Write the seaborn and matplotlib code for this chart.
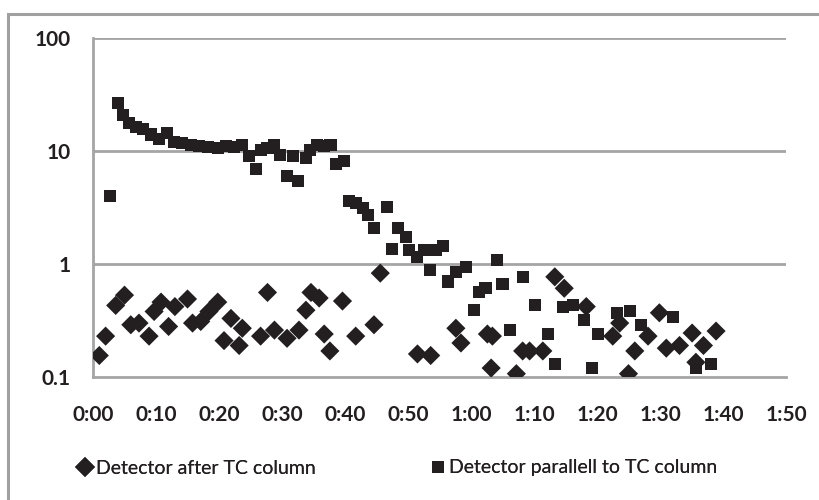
import matplotlib
matplotlib.use("Agg")
import matplotlib.pyplot as plt
from matplotlib.patches import Rectangle
from matplotlib.lines import Line2D
from matplotlib.ticker import FuncFormatter, FixedLocator, NullLocator
import seaborn as sns
import pandas as pd

# Detector after the TC column (time, signal)
t_after = [1.0, 2.0, 3.6, 5.0, 6.0, 7.3, 8.9, 9.7, 10.8, 12.0, 13.0, 15.0, 15.8,
           17.1, 18.4, 19.8, 20.8, 21.9, 23.2, 23.7, 26.6, 27.7, 28.8, 30.8, 32.7,
           33.8, 34.6, 35.9, 36.7, 37.6, 39.6, 41.7, 44.6, 45.6, 51.5, 53.6, 57.6,
           58.4, 62.6, 63.2, 63.4, 67.2, 68.2, 69.3, 71.4, 73.3, 74.8, 78.3, 82.5,
           83.6, 85.0, 86.0, 88.1, 89.9, 91.0, 93.1, 95.1, 95.7, 96.9, 98.9]
v_after = [0.155, 0.23, 0.43, 0.53, 0.29, 0.30, 0.23, 0.38, 0.46, 0.28, 0.42, 0.49,
           0.30, 0.31, 0.38, 0.46, 0.21, 0.33, 0.19, 0.27, 0.23, 0.56, 0.26, 0.22,
           0.26, 0.39, 0.56, 0.50, 0.24, 0.17, 0.47, 0.23, 0.29, 0.83, 0.16, 0.155,
           0.27, 0.20, 0.24, 0.12, 0.23, 0.107, 0.17, 0.17, 0.17, 0.77, 0.61, 0.42,
           0.23, 0.30, 0.107, 0.17, 0.23, 0.37, 0.18, 0.19, 0.245, 0.135, 0.19, 0.255]

# Detector parallel to the TC column (time, signal)
t_parallel = [2.7, 4.0, 4.7, 5.7, 6.8, 7.9, 9.2, 10.5, 11.8, 12.9, 14.2, 15.5, 16.9,
              18.2, 19.8, 21.1, 22.4, 23.6, 24.8, 25.8, 26.6, 27.7, 28.8, 29.7, 30.8,
              31.7, 32.6, 33.8, 34.5, 35.6, 36.7, 37.7, 38.5, 39.8, 40.7, 41.7, 42.8,
              43.7, 44.6, 46.6, 47.5, 48.4, 49.7, 50.2, 51.5, 52.6, 53.5, 54.4, 55.6,
              56.3, 57.6, 59.2, 60.5, 61.3, 62.3, 64.2, 65.0, 66.2, 68.2, 70.2, 72.2,
              73.3, 74.6, 76.2, 78.0, 79.2, 80.1, 83.1, 85.2, 87.0, 92.0, 95.7, 98.1]
v_parallel = [4.0, 26.4, 20.7, 17.8, 16.4, 15.7, 14.0, 12.8, 14.3, 12.0, 11.8, 11.2,
              11.0, 10.9, 10.6, 11.0, 10.9, 11.4, 9.1, 6.9, 10.3, 10.7, 11.4, 9.3,
              6.05, 9.0, 5.4, 8.7, 10.3, 11.4, 11.0, 11.4, 7.6, 8.1, 3.6, 3.5, 3.1,
              2.7, 2.1, 3.2, 1.35, 2.1, 1.75, 1.33, 1.16, 1.33, 0.88, 1.33, 1.43,
              0.70, 0.85, 0.95, 0.39, 0.57, 0.61, 1.09, 0.67, 0.26, 0.76, 0.43, 0.24,
              0.13, 0.42, 0.43, 0.32, 0.12, 0.24, 0.37, 0.38, 0.29, 0.34, 0.12, 0.13]

series_names = ["Detector after TC column", "Detector parallell to TC column"]
x_ticks = [0, 10, 20, 30, 40, 50, 60, 70, 80, 90, 100, 110]
y_ticks = [0.1, 1, 10, 100]
y_tick_labels = ["0.1", "1", "10", "100"]

df = pd.concat([
    pd.DataFrame({"t": t_after, "v": v_after, "series": series_names[0]}),
    pd.DataFrame({"t": t_parallel, "v": v_parallel, "series": series_names[1]}),
], ignore_index=True)

sns.set_theme(style="white")
plt.rcParams["font.family"] = ["Lato", "DejaVu Sans"]

INK = "#231f20"
GRID = "#a5a5a5"

fig = plt.figure(figsize=(8.2, 5.0), dpi=100)
ax = fig.add_axes([93 / 820, 1 - 377 / 500, (786 - 93) / 820, (377 - 38) / 500])

# outer chart frame (left and top edges visible)
fig.patches.append(Rectangle((8 / 820, -0.1), 1.2, 1 - 14 / 500 + 0.1,
                             transform=fig.transFigure, fill=False,
                             edgecolor="#a0a0a0", linewidth=2.2, zorder=0))

sns.scatterplot(data=df, x="t", y="v", hue="series", style="series",
                markers={series_names[0]: "D", series_names[1]: "s"},
                palette={series_names[0]: INK, series_names[1]: INK},
                size="series", sizes={series_names[0]: 95, series_names[1]: 75},
                edgecolor="none", linewidth=0, legend=False, ax=ax, zorder=3)

ax.set_yscale("log")
ax.set_xlim(0, 110)
ax.set_ylim(0.1, 100)
ax.yaxis.set_major_locator(FixedLocator(y_ticks))
ax.yaxis.set_minor_locator(NullLocator())
ax.set_yticklabels(y_tick_labels)
ax.xaxis.set_major_locator(FixedLocator(x_ticks))
ax.xaxis.set_major_formatter(FuncFormatter(lambda v, p: f"{int(round(v)) // 60}:{int(round(v)) % 60:02d}"))
ax.set_xlabel("")
ax.set_ylabel("")

for y in [1, 10, 100]:
    ax.axhline(y, color=GRID, linewidth=2.0, zorder=1)
for s in ["top", "right"]:
    ax.spines[s].set_visible(False)
for s in ["left", "bottom"]:
    ax.spines[s].set_color(GRID)
    ax.spines[s].set_linewidth(2.0)
ax.grid(False)
ax.tick_params(axis="both", length=0, labelsize=15, labelcolor=INK)
ax.tick_params(axis="x", pad=20)
ax.tick_params(axis="y", pad=16)
for lab in ax.get_xticklabels() + ax.get_yticklabels():
    lab.set_fontweight("bold")

# legend entries placed side by side below the plot
legend_y = 1 - 468 / 500
entries = [("D", 10, 75 / 820), ("s", 8.5, 428 / 820)]
for (mk, ms, x0), name in zip(entries, series_names):
    h = Line2D([], [], linestyle="none", marker=mk, markersize=ms, color=INK,
               markeredgewidth=0)
    leg = fig.legend([h], [name], loc="center left", bbox_to_anchor=(x0, legend_y),
                     frameon=False, fontsize=14, handletextpad=0.1, handlelength=1.0,
                     borderpad=0, borderaxespad=0, labelcolor=INK)
    fig.add_artist(leg)

fig.savefig("out.png", dpi=100)
